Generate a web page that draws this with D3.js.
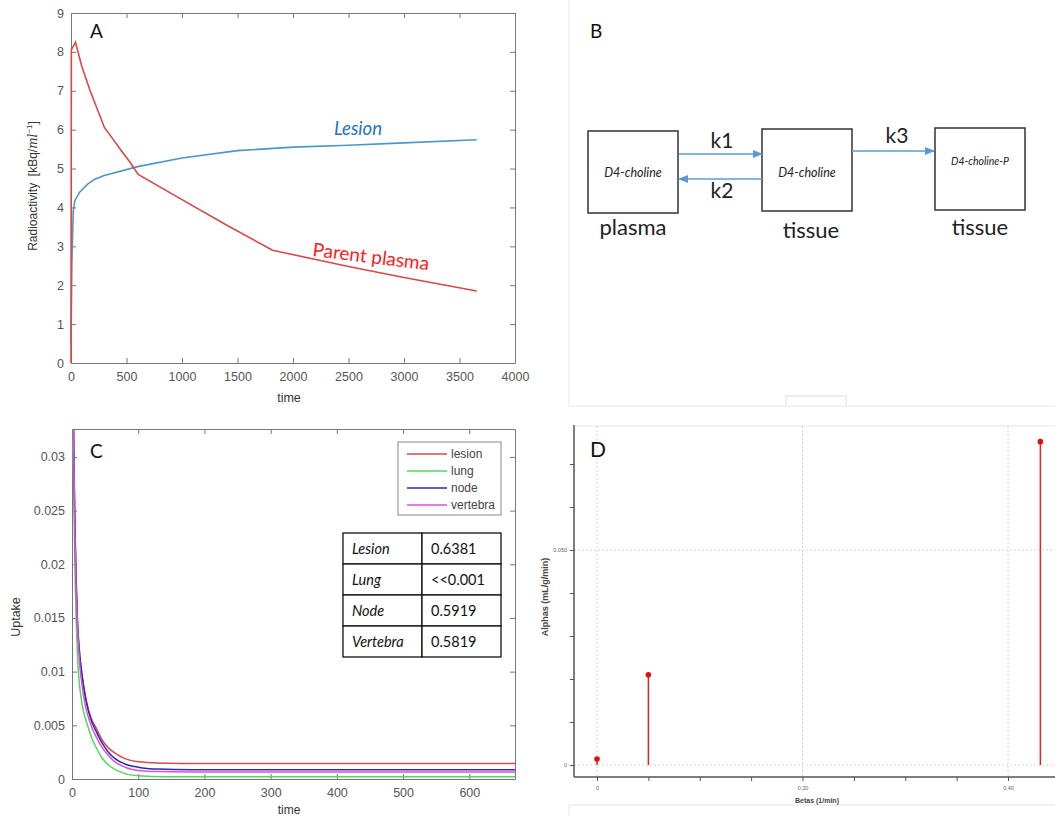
<!DOCTYPE html>
<html>
<head>
<meta charset="utf-8">
<script src="https://cdn.jsdelivr.net/npm/d3@7"></script>
<style>
  body { margin: 0; background: #fff; }
  svg { display: block; font-family: "Liberation Sans", Arial, sans-serif; }
</style>
</head>
<body>
<div id="fig"></div>
<script>
// Panel A data (time, kBq/ml)
let parentPlasma = [[0, 0], [3, 8.05], [40, 8.25], [95, 7.65], [172, 7.0], [302, 6.05], [380, 5.75],
    [450, 5.47], [530, 5.17], [605, 4.85], [1000, 4.2], [1400, 3.55], [1815, 2.9], [2500, 2.48], [3000, 2.2], [3655, 1.85]];
let lesionActivity = [[0, 0.5], [8, 2.6], [20, 3.9], [35, 4.18], [80, 4.4], [150, 4.6], [210, 4.72],
    [300, 4.82], [600, 5.05], [1000, 5.27], [1500, 5.46], [2000, 5.55], [2500, 5.6], [3000, 5.66], [3655, 5.74]];
let aTicksX = [0, 500, 1000, 1500, 2000, 2500, 3000, 3500, 4000];
let aTicksY = [0, 1, 2, 3, 4, 5, 6, 7, 8, 9];

// Panel C data (time, uptake)
let lesionUptake = [[0, 0.048], [2, 0.034], [4, 0.025], [6, 0.019], [8, 0.015], [11, 0.012], [15, 0.0098],
    [20, 0.0078], [25, 0.0064], [30, 0.0055], [36, 0.0048], [45, 0.0037], [55, 0.0029], [65, 0.0024],
    [80, 0.0019], [100, 0.0016], [130, 0.0015], [200, 0.00145], [669, 0.00145]];
let lungUptake = [[0, 0.045], [2, 0.03], [4, 0.021], [6, 0.0155], [8, 0.012], [10, 0.0097], [13, 0.0079],
    [17, 0.0064], [21, 0.0055], [25, 0.0047], [30, 0.0038], [36, 0.003], [45, 0.002], [55, 0.0013],
    [65, 0.0009], [80, 0.0005], [100, 0.0003], [140, 0.0002], [669, 0.0002]];
let nodeUptake = [[0, 0.048], [2, 0.034], [4, 0.025], [6, 0.019], [8, 0.015], [11, 0.012], [15, 0.0097],
    [20, 0.0077], [25, 0.0063], [30, 0.0053], [36, 0.0045], [45, 0.0034], [55, 0.0025], [65, 0.0019],
    [80, 0.0014], [100, 0.0011], [130, 0.00092], [180, 0.00086], [669, 0.00085]];
let vertebraUptake = [[0, 0.048], [2, 0.034], [4, 0.024], [6, 0.018], [8, 0.0145], [11, 0.0112], [15, 0.0088],
    [20, 0.0069], [25, 0.0057], [30, 0.0048], [36, 0.004], [45, 0.003], [55, 0.0022], [65, 0.0016],
    [80, 0.0011], [100, 0.0008], [130, 0.0007], [180, 0.00066], [669, 0.00065]];
let cSeriesNames = ["lesion", "lung", "node", "vertebra"];
let cTicksX = [0, 100, 200, 300, 400, 500, 600];
let cTicksY = [0, 0.005, 0.01, 0.015, 0.02, 0.025, 0.03];
let tableNames = ["Lesion", "Lung", "Node", "Vertebra"];
let tableValues = ["0.6381", "<<0.001", "0.5919", "0.5819"];

// Panel D data (beta, alpha)
let betas = [0, 0.05, 0.4315];
let alphas = [0.0014, 0.021, 0.0752];
let dTicksX = [0, 0.05, 0.1, 0.15, 0.2, 0.25, 0.3, 0.35, 0.4];
let dTicksY = [0, 0.01, 0.02, 0.03, 0.04, 0.05, 0.06, 0.07];

// Panel B labels
let compartments = ["D4-choline", "D4-choline", "D4-choline-P"];
let compartmentPlaces = ["plasma", "tissue", "tissue"];
let rates = ["k1", "k2", "k3"];

let axisColor = "#777";
let tickColor = "#555";
let calibri = "Lato, 'Open Sans', sans-serif";

let svg = d3.select("#fig")
    .append("svg")
    .attr("width", 1055)
    .attr("height", 816);

// Box style axes with inward ticks on all four sides
function boxAxes(g, x, y, xTicks, yTicks, xFmt, yFmt) {
    let [xa, xb] = x.range();
    let [ya, yb] = y.range();
    g.append("g").attr("transform", `translate(0,${ya})`)
        .call(d3.axisBottom(x).tickValues(xTicks).tickSize(-5).tickSizeOuter(0).tickPadding(9).tickFormat(xFmt));
    g.append("g").attr("transform", `translate(0,${yb})`)
        .call(d3.axisTop(x).tickValues(xTicks).tickSize(-5).tickSizeOuter(0).tickFormat(""));
    g.append("g").attr("transform", `translate(${xa},0)`)
        .call(d3.axisLeft(y).tickValues(yTicks).tickSize(-5).tickSizeOuter(0).tickPadding(7).tickFormat(yFmt));
    g.append("g").attr("transform", `translate(${xb},0)`)
        .call(d3.axisRight(y).tickValues(yTicks).tickSize(-5).tickSizeOuter(0).tickFormat(""));
    g.selectAll(".domain, .tick line").attr("stroke", axisColor);
    g.selectAll(".tick text").attr("fill", tickColor).style("font-size", "12.5px");
}

/* Panel A */
let gA = svg.append("g");
let xA = d3.scaleLinear().domain([0, 4000]).range([71, 515]);
let yA = d3.scaleLinear().domain([0, 9]).range([363, 13]);
boxAxes(gA, xA, yA, aTicksX, aTicksY, d3.format("d"), d3.format("d"));

let lineA = d3.line().x(d => xA(d[0])).y(d => yA(d[1]));
gA.append("path").datum(lesionActivity)
    .attr("d", lineA).attr("fill", "none").attr("stroke", "#4a97c8").attr("stroke-width", 1.6);
gA.append("path").datum(parentPlasma)
    .attr("d", lineA).attr("fill", "none").attr("stroke", "#dc4646").attr("stroke-width", 1.6);

gA.append("text").attr("x", 90).attr("y", 38).text("A")
    .style("font-family", calibri).style("font-size", "19px").attr("fill", "#111");
gA.append("text").attr("x", 334).attr("y", 135).text("Lesion")
    .style("font-family", calibri).style("font-style", "italic").style("font-size", "18.5px").attr("fill", "#1f74c4");
gA.append("text").attr("transform", "translate(312,256) rotate(7)").text("Parent plasma")
    .style("font-family", calibri).style("font-size", "19px").attr("fill", "#ff1a1a");
gA.append("text").attr("x", 289).attr("y", 402).attr("text-anchor", "middle").text("time")
    .style("font-size", "12.5px").attr("fill", "#333");

let yLabA = gA.append("text").attr("transform", "translate(37,186) rotate(-90)")
    .attr("text-anchor", "middle").style("font-size", "12px").attr("fill", "#333");
yLabA.append("tspan").text("Radioactivity\u00a0\u00a0[kBq/");
yLabA.append("tspan").text("ml").style("font-style", "italic").style("font-family", "'DejaVu Serif', serif");
yLabA.append("tspan").text("\u22121").attr("dy", -5).style("font-size", "8px");
yLabA.append("tspan").text("]").attr("dy", 5);

/* Panel B */
let gB = svg.append("g");
// faint frame
gB.append("path").attr("d", "M569,0V406H1055").attr("fill", "none").attr("stroke", "#e8e8e8");
gB.append("path").attr("d", "M786,406V396H846V406").attr("fill", "none").attr("stroke", "#dcdcdc");

let boxX = [588, 762, 935];
let boxY = [131, 129, 128];
let boxW = 90, boxH = 82;

gB.selectAll(".box").data(compartments).enter().append("rect")
    .attr("class", "box")
    .attr("x", (d, i) => boxX[i]).attr("y", (d, i) => boxY[i])
    .attr("width", boxW).attr("height", boxH)
    .attr("fill", "#fff").attr("stroke", "#333").attr("stroke-width", 1.5);

gB.selectAll(".comp").data(compartments).enter().append("text")
    .attr("class", "comp")
    .attr("x", (d, i) => boxX[i] + boxW / 2)
    .attr("y", (d, i) => i < 2 ? 177 : 165)
    .attr("text-anchor", "middle")
    .style("font-family", calibri).style("font-style", "italic")
    .style("font-size", (d, i) => i < 2 ? "12.5px" : "10.5px")
    .attr("fill", "#222")
    .text(d => d);

gB.selectAll(".place").data(compartmentPlaces).enter().append("text")
    .attr("class", "place")
    .attr("x", (d, i) => boxX[i] + boxW / 2 + (i === 1 ? 4 : 0))
    .attr("y", (d, i) => i === 1 ? 238 : 235)
    .attr("text-anchor", "middle")
    .style("font-family", calibri).style("font-size", "22px").attr("fill", "#222")
    .text(d => d);

svg.append("defs").append("marker")
    .attr("id", "head").attr("viewBox", "0 0 10 10").attr("refX", 9).attr("refY", 5)
    .attr("markerWidth", 7).attr("markerHeight", 7).attr("orient", "auto-start-reverse")
    .append("path").attr("d", "M0,1L10,5L0,9Z").attr("fill", "#5b9bd5");

let arrows = [[679, 154, 762, 154], [762, 179, 679, 179], [852, 151, 934, 151]];
gB.selectAll(".arrow").data(arrows).enter().append("line")
    .attr("class", "arrow")
    .attr("x1", d => d[0]).attr("y1", d => d[1]).attr("x2", d => d[2]).attr("y2", d => d[3])
    .attr("stroke", "#5b9bd5").attr("stroke-width", 1.5).attr("marker-end", "url(#head)");

let rateX = [722, 722, 897], rateY = [148, 198, 143];
gB.selectAll(".rate").data(rates).enter().append("text")
    .attr("class", "rate")
    .attr("x", (d, i) => rateX[i]).attr("y", (d, i) => rateY[i])
    .attr("text-anchor", "middle")
    .style("font-family", calibri).style("font-size", "21px").attr("fill", "#222")
    .text(d => d);

gB.append("text").attr("x", 590).attr("y", 38).text("B")
    .style("font-family", calibri).style("font-size", "19px").attr("fill", "#111");

/* Panel C */
let gC = svg.append("g");
let xC = d3.scaleLinear().domain([0, 669]).range([72, 515]);
let yC = d3.scaleLinear().domain([0, 0.0326]).range([779, 429]);
boxAxes(gC, xC, yC, cTicksX, cTicksY, d3.format("d"), d => d === 0 ? "0" : String(d));

svg.append("clipPath").attr("id", "clipC").append("rect")
    .attr("x", 72).attr("y", 429).attr("width", 443).attr("height", 350);

let cSeries = [lesionUptake, lungUptake, nodeUptake, vertebraUptake];
let cColors = ["#d84a4a", "#4fd85a", "#2a2ab4", "#dc50dc"];
let lineC = d3.line().x(d => xC(d[0])).y(d => yC(d[1])).curve(d3.curveMonotoneX);

gC.append("g").attr("clip-path", "url(#clipC)")
    .selectAll("path").data(cSeries).enter().append("path")
    .attr("d", lineC).attr("fill", "none")
    .attr("stroke", (d, i) => cColors[i]).attr("stroke-width", 1.5);

// legend
let leg = gC.append("g");
leg.append("rect").attr("x", 398).attr("y", 442).attr("width", 103).attr("height", 73)
    .attr("fill", "#fff").attr("stroke", "#888");
leg.selectAll("line").data(cSeriesNames).enter().append("line")
    .attr("x1", 407).attr("x2", 447)
    .attr("y1", (d, i) => 454 + i * 17).attr("y2", (d, i) => 454 + i * 17)
    .attr("stroke", (d, i) => cColors[i]).attr("stroke-width", 1.3);
leg.selectAll("text").data(cSeriesNames).enter().append("text")
    .attr("x", 451).attr("y", (d, i) => 458 + i * 17)
    .style("font-size", "12px").attr("fill", "#444")
    .text(d => d);

// table of values
let tab = gC.append("g");
let rowH = 31, tabTop = 533;
tab.selectAll(".cell").data(d3.range(tableNames.length * 2)).enter().append("rect")
    .attr("class", "cell")
    .attr("x", d => d % 2 === 0 ? 343 : 422)
    .attr("y", d => tabTop + Math.floor(d / 2) * rowH)
    .attr("width", 79)
    .attr("height", rowH)
    .attr("fill", "#fff").attr("stroke", "#111").attr("stroke-width", 1.3);
tab.selectAll(".tname").data(tableNames).enter().append("text")
    .attr("class", "tname")
    .attr("x", 352).attr("y", (d, i) => tabTop + i * rowH + 21)
    .style("font-family", calibri).style("font-style", "italic").style("font-size", "14.5px").attr("fill", "#111")
    .text(d => d);
tab.selectAll(".tval").data(tableValues).enter().append("text")
    .attr("class", "tval")
    .attr("x", 431).attr("y", (d, i) => tabTop + i * rowH + 21)
    .style("font-family", calibri).style("font-size", "14.5px").attr("fill", "#111")
    .text(d => d);

gC.append("text").attr("x", 90).attr("y", 458).text("C")
    .style("font-family", calibri).style("font-size", "19px").attr("fill", "#111");
gC.append("text").attr("x", 289).attr("y", 814).attr("text-anchor", "middle").text("time")
    .style("font-size", "12px").attr("fill", "#333");
gC.append("text").attr("transform", "translate(20,617) rotate(-90)").attr("text-anchor", "middle")
    .text("Uptake").style("font-size", "12.5px").attr("fill", "#333");

/* Panel D */
let gD = svg.append("g");
let xD = d3.scaleLinear().domain([0, 0.4]).range([597, 1008]);
let yD = d3.scaleLinear().domain([0, 0.05]).range([765, 550]);

// faint frame around the plot image
gD.append("path").attr("d", "M574,426H1055").attr("stroke", "#e4e4e4").attr("fill", "none");
gD.append("path").attr("d", "M569,816V805H1055").attr("stroke", "#e4e4e4").attr("fill", "none");

// grid
gD.selectAll(".vgrid").data([0, 0.2, 0.4]).enter().append("line")
    .attr("class", "vgrid")
    .attr("x1", d => xD(d)).attr("x2", d => xD(d)).attr("y1", 426).attr("y2", 777)
    .attr("stroke", "#d4d4d4").attr("stroke-dasharray", "2,2");
gD.selectAll(".hgrid").data([0, 0.05]).enter().append("line")
    .attr("class", "hgrid")
    .attr("x1", 574).attr("x2", 1055).attr("y1", d => yD(d)).attr("y2", d => yD(d))
    .attr("stroke", "#d4d4d4").attr("stroke-dasharray", "2,2");

gD.append("g").attr("transform", "translate(0,777)")
    .call(d3.axisBottom(xD).tickValues(dTicksX).tickSize(4).tickPadding(5)
        .tickFormat(d => d === 0 ? "0" : (Math.abs(d - 0.2) < 1e-9 || Math.abs(d - 0.4) < 1e-9) ? d.toFixed(2) : ""));
gD.append("g").attr("transform", "translate(574,0)")
    .call(d3.axisLeft(yD).tickValues(dTicksY).tickSize(4).tickPadding(3)
        .tickFormat(d => d === 0 ? "0" : Math.abs(d - 0.05) < 1e-9 ? "0.050" : ""));
gD.selectAll(".domain").remove();
gD.selectAll(".tick line").attr("stroke", "#555");
gD.selectAll(".tick text").attr("fill", "#666").style("font-size", "5.5px");
gD.append("line").attr("x1", 574).attr("x2", 1055).attr("y1", 777).attr("y2", 777)
    .attr("stroke", "#555").attr("stroke-width", 1.5);
gD.append("line").attr("x1", 574).attr("x2", 574).attr("y1", 425).attr("y2", 777)
    .attr("stroke", "#555").attr("stroke-width", 1.5);

// stems
gD.selectAll(".stem").data(betas).enter().append("line")
    .attr("class", "stem")
    .attr("x1", d => xD(d)).attr("x2", d => xD(d))
    .attr("y1", yD(0)).attr("y2", (d, i) => yD(alphas[i]))
    .attr("stroke", "#e02424").attr("stroke-width", 1.5);
gD.selectAll(".dot").data(betas).enter().append("circle")
    .attr("class", "dot")
    .attr("cx", d => xD(d)).attr("cy", (d, i) => yD(alphas[i])).attr("r", 2.8)
    .attr("fill", "#e01010");

gD.append("text").attr("x", 817).attr("y", 803).attr("text-anchor", "middle").text("Betas (1/min)")
    .style("font-size", "7px").style("font-weight", "bold").attr("fill", "#444");
gD.append("text").attr("transform", "translate(548,597) rotate(-90)").attr("text-anchor", "middle")
    .text("Alphas (mL/g/min)").style("font-size", "9px").style("font-weight", "bold").attr("fill", "#444");
gD.append("text").attr("x", 590).attr("y", 457).text("D")
    .style("font-family", calibri).style("font-size", "21px").attr("fill", "#111");
</script>
</body>
</html>
